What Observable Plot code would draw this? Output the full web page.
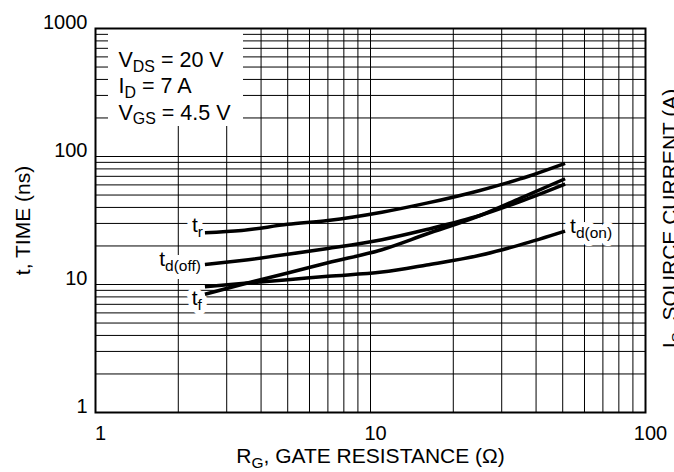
<!DOCTYPE html>
<html><head><meta charset="utf-8">
<script src="https://cdn.jsdelivr.net/npm/d3@7"></script>
<script src="https://cdn.jsdelivr.net/npm/@observablehq/plot@0.6"></script>
<style>
body{margin:0;background:#fff;}
#chart svg{font-family:"Liberation Sans",Arial,Helvetica,sans-serif;}
</style>
</head><body><div id="chart"></div>
<script>
// Gate resistance (ohm) at which the curves were read
const resistance = [2.5, 3.4, 5, 7, 11, 16, 25, 35, 51];
// switching times (ns)
const tRise    = [25.4, 26.4, 29.5, 31.6, 36.7, 43.2, 54.3, 66.8, 88.5];
const tDelayOff= [14.3, 15.4, 17.2, 19.1, 22.4, 26.9, 34.6, 44.5, 61];
const tFall    = [8.4, 10.0, 12.3, 14.8, 18.7, 24.8, 34.6, 47.1, 67];
const tDelayOn = [9.6, 10.2, 10.9, 11.6, 12.5, 14.2, 16.9, 20.4, 26.1];
const seriesNames = ["t_{r}", "t_{d(off)}", "t_{f}", "t_{d(on)}"];

const xTickLabels = [1, 10, 100];
const yTickLabels = [1, 10, 100, 1000];
const xGrid = [1,2,3,4,5,6,7,8,9,10,20,30,40,50,60,70,80,90,100];
const yGrid = [1,2,3,4,5,6,7,8,9,10,20,30,40,50,60,70,80,90,100,200,300,400,500,600,700,800,900,1000];
const conditions = ["V_{DS} = 20 V", "I_{D} = 7 A", "V_{GS} = 4.5 V"];
const xTitle = "R_{G}, GATE RESISTANCE (Ω)";
const yTitle = "t, TIME (ns)";
const y2Title = "I_{S}, SOURCE CURRENT (A)";

const allSeries = [tRise, tDelayOff, tFall, tDelayOn];
const rows = allSeries.flatMap((vals, i) => vals.map((t, j) => ({series: seriesNames[i], r: resistance[j], t})));
const firstOf = name => rows.filter(d => d.series === name)[0];
const lastOf = name => { const a = rows.filter(d => d.series === name); return a[a.length - 1]; };

const labelSpecs = [
  {datum: firstOf("t_{r}"), textAnchor: "end", dx: -2, dy: -7},
  {datum: firstOf("t_{d(off)}"), textAnchor: "end", dx: -4, dy: -5},
  {datum: firstOf("t_{f}"), textAnchor: "end", dx: -3, dy: 4},
  {datum: lastOf("t_{d(on)}"), textAnchor: "start", dx: 5, dy: -5}
];
const labelFont = 21;
const haloMarks = labelSpecs.map(s => Plot.text([s.datum], {x: "r", y: "t", text: "series", fontSize: labelFont, lineAnchor: "middle", textAnchor: s.textAnchor, dx: s.dx, dy: s.dy, fill: "white", stroke: "white", strokeWidth: 10}));
const labelMarks = labelSpecs.map(s => Plot.text([s.datum], {x: "r", y: "t", text: "series", fontSize: labelFont, lineAnchor: "middle", textAnchor: s.textAnchor, dx: s.dx, dy: s.dy, fill: "black"}));

const plot = Plot.plot({
  width: 674, height: 472,
  marginLeft: 95, marginRight: 29, marginTop: 28, marginBottom: 60,
  x: {type: "log", domain: [1, 100], axis: null},
  y: {type: "log", domain: [1, 1000], axis: null},
  style: {background: "white", color: "black", fontSize: "20px"},
  marks: [
    Plot.ruleX(xGrid, {stroke: "black", strokeWidth: 1}),
    Plot.ruleY(yGrid, {stroke: "black", strokeWidth: 1}),
    Plot.rect([0], {fill: "white", insetLeft: 13, insetRight: 402, insetBottom: 286}),
    Plot.text([conditions.join("\n")], {frameAnchor: "top-left", textAnchor: "start", lineAnchor: "top", dx: 23, dy: 20, lineHeight: 1.22, fontSize: 21.5, fill: "black"}),
    ...haloMarks,
    ...labelMarks,
    Plot.line(rows, {x: "r", y: "t", z: "series", stroke: "black", strokeWidth: 3.5, curve: "monotone-x", strokeLinecap: "butt"}),
    Plot.frame({stroke: "black", strokeWidth: 2}),
    Plot.text(xTickLabels, {x: d => d, frameAnchor: "bottom", text: d => String(d), textAnchor: "middle", lineAnchor: "middle", dy: 21, dx: 5, fontSize: 20, fill: "black"}),
    Plot.text(yTickLabels, {y: d => d, frameAnchor: "left", text: d => String(d), textAnchor: "end", lineAnchor: "middle", dx: -8, dy: -6, fontSize: 20, fill: "black"}),
    Plot.text([xTitle], {frameAnchor: "bottom", textAnchor: "middle", lineAnchor: "middle", dy: 44, fontSize: 21, fill: "black"}),
    Plot.text([yTitle], {frameAnchor: "left", textAnchor: "middle", lineAnchor: "middle", rotate: -90, dx: -72, fontSize: 21, fill: "black"}),
    Plot.text([y2Title], {frameAnchor: "right", textAnchor: "middle", lineAnchor: "middle", rotate: -90, dx: 25, dy: -2, fontSize: 21, fill: "black"})
  ]
});
document.getElementById("chart").appendChild(plot);

// turn _{...} markup into real subscript tspans
function subify(root) {
  const NS = "http://www.w3.org/2000/svg";
  Array.from(root.querySelectorAll("text, tspan")).forEach(el => {
    if (el.children.length) return;
    const s = el.textContent;
    if (!s.includes("_{")) return;
    const fs = parseFloat(getComputedStyle(el).fontSize) || 20;
    const shift = fs * 0.22;
    const segs = [];
    const re = /_\{([^}]*)\}/g;
    let last = 0, m;
    while ((m = re.exec(s))) {
      if (m.index > last) segs.push({text: s.slice(last, m.index), sub: false});
      segs.push({text: m[1], sub: true});
      last = re.lastIndex;
    }
    if (last < s.length) segs.push({text: s.slice(last), sub: false});
    el.textContent = "";
    let cur = 0;
    segs.forEach(seg => {
      const t = document.createElementNS(NS, "tspan");
      const want = seg.sub ? shift : 0;
      if (want !== cur) t.setAttribute("dy", (want - cur).toFixed(2));
      cur = want;
      if (seg.sub) t.setAttribute("font-size", (fs * 0.74).toFixed(1));
      t.textContent = seg.text;
      el.appendChild(t);
    });
  });
}
subify(plot);
</script>
</body></html>
